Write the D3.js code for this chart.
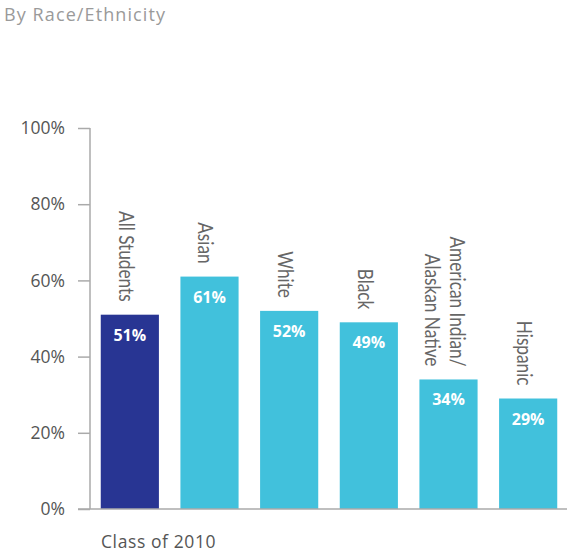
<!DOCTYPE html>
<html>
<head>
<meta charset="utf-8">
<script src="https://cdn.jsdelivr.net/npm/d3@7"></script>
<style>
  html, body { margin: 0; padding: 0; background: #fff; }
  svg { display: block; }
</style>
</head>
<body>
<svg id="chart" width="581" height="557"></svg>
<script>
// Graduation rates, Class of 2010, by race/ethnicity
const categories = ["All Students", "Asian", "White", "Black", "American Indian/\nAlaskan Native", "Hispanic"];
const rates = [51, 61, 52, 49, 34, 29];
const yTicks = [0, 20, 40, 60, 80, 100];
const title = "By Race/Ethnicity";
const xTitle = "Class of 2010";

const svg = d3.select("#chart");
const labelFont = "Lato, sans-serif";
const baseFont = "'Open Sans', sans-serif";

const x = d3.scaleBand()
  .domain(categories)
  .range([90, 568])
  .paddingInner(0.27)
  .paddingOuter(0.135);

const y = d3.scaleLinear().domain([0, 100]).range([509, 128]);

// title
svg.append("text")
  .attr("x", 4).attr("y", 21)
  .attr("font-family", baseFont).attr("font-size", 18)
  .attr("letter-spacing", 1.1)
  .attr("fill", "#9a9a9a")
  .text(title);

// y axis
const yAxis = d3.axisLeft(y)
  .tickValues(yTicks)
  .tickSize(12)
  .tickPadding(13)
  .tickFormat(d => d + "%");
const gy = svg.append("g").attr("transform", "translate(90,0)").call(yAxis);
gy.select(".domain").attr("stroke", "#aaa").attr("stroke-width", 1.5).attr("d", `M0,${y(100)}V${y(0)}`);
gy.selectAll(".tick line").attr("stroke", "#aaa").attr("stroke-width", 1.5);
gy.selectAll(".tick text")
  .attr("font-family", baseFont).attr("font-size", 17.5)
  .attr("fill", "#555");

// bars
const colour = (d, i) => i === 0 ? "#283593" : "#41c1dc";
svg.append("g").selectAll("rect")
  .data(rates)
  .join("rect")
  .attr("x", (d, i) => x(categories[i]))
  .attr("width", x.bandwidth())
  .attr("y", d => y(d))
  .attr("height", d => y(0) - y(d))
  .attr("fill", colour);

// baseline
svg.append("line")
  .attr("x1", 78).attr("x2", 567)
  .attr("y1", y(0)).attr("y2", y(0))
  .attr("stroke", "#aaa").attr("stroke-width", 1.5);

// value labels inside bars
svg.append("g").selectAll("text")
  .data(rates)
  .join("text")
  .attr("x", (d, i) => x(categories[i]) + x.bandwidth() / 2)
  .attr("y", d => y(d) + 26)
  .attr("text-anchor", "middle")
  .attr("font-family", baseFont).attr("font-weight", "bold").attr("font-size", 16)
  .attr("fill", "#fff")
  .text(d => d + "%");

// rotated, condensed category labels above the bars
const lineGap = 25;
const cat = svg.append("g").selectAll("text")
  .data(rates)
  .join("text")
  .attr("transform", (d, i) => {
    const lines = categories[i].split("\n").length;
    const cx = x(categories[i]) + x.bandwidth() / 2 - 3 + (lines - 1) * lineGap / 2;
    return `translate(${cx},${y(d) - 13}) rotate(90) scale(0.82,1)`;
  })
  .attr("text-anchor", "end")
  .attr("font-family", labelFont).attr("font-weight", 400).attr("font-size", 21)
  .attr("fill", "#666");
cat.each(function(d, i) {
  const lines = categories[i].split("\n");
  d3.select(this).selectAll("tspan")
    .data(lines)
    .join("tspan")
    .attr("x", 0)
    .attr("y", (l, j) => j * lineGap)
    .attr("dominant-baseline", "central")
    .text(l => l);
});

// x-axis caption
svg.append("text")
  .attr("x", 101).attr("y", 548)
  .attr("font-family", baseFont).attr("font-size", 17.5)
  .attr("letter-spacing", 0.6)
  .attr("fill", "#555")
  .text(xTitle);
</script>
</body>
</html>
